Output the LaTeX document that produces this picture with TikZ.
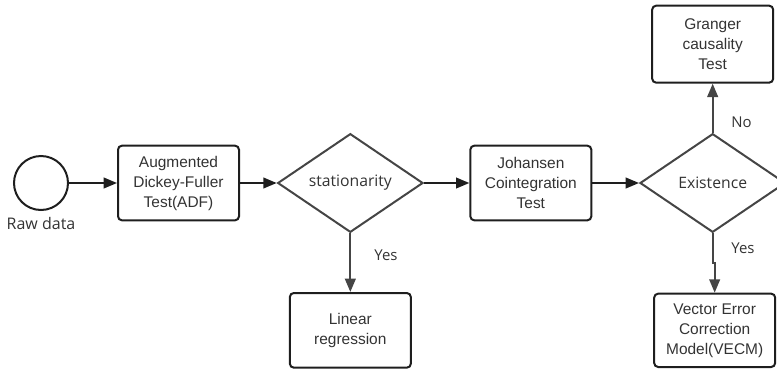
\documentclass[tikz,border=0pt]{standalone}
\usepackage{fontspec}
\setsansfont{Liberation Sans}
\newfontfamily\labelfont{Open Sans}
\usetikzlibrary{arrows.meta,positioning,shapes.geometric}
\definecolor{flowline}{HTML}{1E1E1E}
\definecolor{flowgray}{HTML}{454545}
\definecolor{flowtext}{HTML}{333333}
\tikzset{
  stepbox/.style={
    draw=flowline,
    line width=1.5pt,
    rounded corners=3pt,
    minimum width=90.75pt,
    minimum height=56pt,
    align=center,
    text=flowtext,
    font=\sffamily\fontsize{11.6}{15}\selectfont
  },
  decision/.style={
    diamond,
    draw=flowgray,
    line width=1.5pt,
    minimum width=109pt,
    minimum height=74pt,
    inner sep=0pt,
    text=flowtext,
    font=\labelfont\fontsize{11.8}{14}\selectfont
  },
  startnode/.style={circle,draw=flowline,line width=1.5pt,minimum size=40.5pt},
  arrow/.style={-{Triangle[length=10pt,width=8pt]},line width=1.5pt,draw=flowline},
  grayarrow/.style={arrow,draw=flowgray},
  edgelabel/.style={text=flowtext,font=\labelfont\fontsize{11.2}{13}\selectfont}
}

\begin{document}
\begin{tikzpicture}
  \useasboundingbox (0,0) rectangle (582.75pt,-276pt);

  \node[startnode, label={[edgelabel,font=\labelfont\fontsize{12}{14}\selectfont,yshift=-1pt]below:Raw data}] (raw) at (30.75pt,-137.25pt) {};
  \node[stepbox, right=36pt of raw] (adf) {Augmented\\Dickey-Fuller\\Test(ADF)};
  \node[decision, right=27.5pt of adf] (stationarity) {stationarity};
  \node[stepbox, right=34pt of stationarity] (johansen) {Johansen\\Cointegration\\Test};
  \node[decision, right=35pt of johansen] (existence) {Existence};

  \node[stepbox, below=44pt of stationarity] (linear) {Linear\\regression};
  \node[stepbox, above=36.75pt of existence, minimum height=57.75pt] (granger) {Granger\\causality\\Test};
  \node[stepbox, below=44.5pt of existence, xshift=1.5pt, minimum height=55pt] (vecm) {Vector Error\\Correction\\Model(VECM)};

  \draw[arrow] (raw) -- (adf);
  \draw[arrow] (adf) -- (stationarity);
  \draw[arrow] (stationarity) -- (johansen);
  \draw[arrow] (johansen) -- (existence);
  \draw[grayarrow] (stationarity.south) -- node[edgelabel, right=14pt, pos=0.38] {Yes} (linear.north);
  \draw[grayarrow] (existence.north) -- node[edgelabel, right=10pt, pos=0.22] {No} (granger.south);
  \draw[grayarrow] (existence.south) -- node[edgelabel, right=10pt] {Yes} ++(0,-22.5pt) -| (vecm.north);
\end{tikzpicture}
\end{document}
